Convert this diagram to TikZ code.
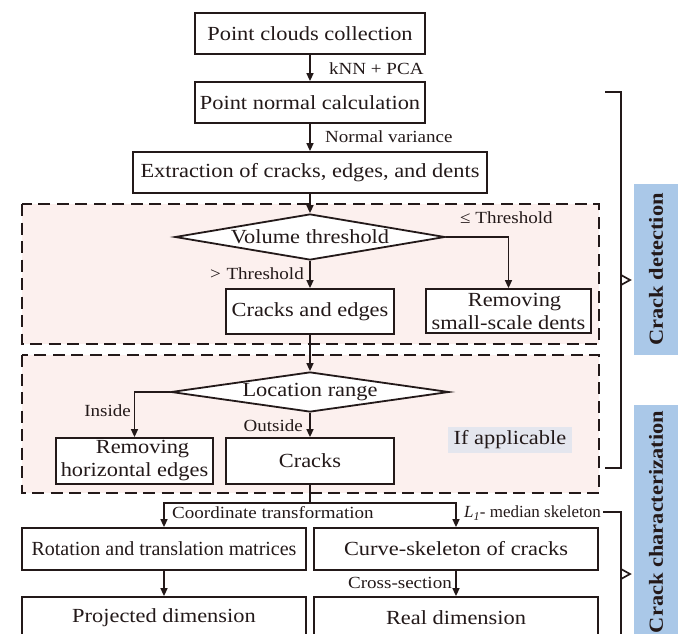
\documentclass[tikz,border=0pt]{standalone}
\usepackage{fontspec}
\setmainfont{Liberation Serif}[FakeStretch=1.12]
\newfontfamily\plainserif{Liberation Serif}
\usetikzlibrary{shapes.geometric,arrows.meta}
\definecolor{pinkbg}{RGB}{252,240,238}
\definecolor{bluebg}{RGB}{170,200,232}
\definecolor{grayblue}{RGB}{228,230,238}
\definecolor{ink}{RGB}{35,25,25}
\begin{document}
\begin{tikzpicture}[x=1pt,y=-1pt,
  box/.style={draw=ink, line width=1.8pt, fill=white, inner sep=0pt, align=center, text=ink, font=\fontsize{20}{23}\selectfont},
  dia/.style={draw=ink, line width=1.8pt, fill=white, diamond, inner sep=0pt, text=ink, font=\fontsize{20}{23}\selectfont},
  lbl/.style={inner sep=0pt, text=ink, font=\fontsize{17}{19}\selectfont},
  arr/.style={draw=ink, line width=1.6pt, -{Triangle[length=8pt,width=7pt]}},
  conn/.style={draw=ink, line width=1.7pt},
  dashbox/.style={draw=ink, line width=2.8pt, dash pattern=on 12pt off 6.5pt, fill=pinkbg},
  side/.style={fill=bluebg, inner sep=0pt, text=ink, font=\fontsize{20}{23}\selectfont\bfseries, rotate=90},
]
\useasboundingbox (0,0) rectangle (686,634);

% dashed group backgrounds
\draw[dashbox] (22,204) rectangle (599,344);
\draw[dashbox] (22,355) rectangle (599,493);

% side labels
\node[side, minimum width=171pt, minimum height=44pt] (cd) at (656,269.5) {Crack detection};
\node[side, minimum width=234pt, minimum height=44pt] (cc) at (656,522) {Crack characterization};

% brackets
\draw[conn] (605,92) -- (621,92) -- (621,468) -- (605,468);
\draw[conn] (621,275) -- (630,280) -- (621,285);
\draw[conn] (603,512) -- (621,512) -- (621,640);
\draw[conn] (621,569) -- (630,574) -- (621,579);

% nodes
\node[box, minimum width=230pt, minimum height=41pt] (b1) at (310,33.5) {Point clouds collection};
\node[box, minimum width=230pt, minimum height=41pt] (b2) at (310,102.5) {Point normal calculation};
\node[box, minimum width=354pt, minimum height=41pt] (b3) at (310,172.5) {Extraction of cracks, edges, and dents};
\node[dia, aspect=5.9, minimum width=270pt, minimum height=46pt] (d1) at (310,237) {Volume threshold};
\node[box, minimum width=168pt, minimum height=45pt] (ce) at (310,311.5) {Cracks and edges};
\node[box, minimum width=165pt, minimum height=44pt] (dents) at (508.5,311) {\hspace*{12pt}Removing\\small-scale dents};
\node[dia, aspect=6.9, minimum width=278pt, minimum height=40pt] (d2) at (310,392) {Location range};
\node[box, minimum width=157pt, minimum height=46pt] (he) at (134.5,461) {\hspace*{16pt}Removing\\horizontal edges};
\node[box, minimum width=168pt, minimum height=46pt] (cr) at (310,461) {Cracks};
\node[fill=grayblue, inner sep=0pt, minimum width=124pt, minimum height=26pt, text=ink, font=\fontsize{20}{23}\selectfont] (ifa) at (510,440) {If applicable};
\node[box, minimum width=284pt, minimum height=42pt, font=\plainserif\fontsize{20}{23}\selectfont] (rot) at (164,549) {Rotation and translation matrices};
\node[box, minimum width=284pt, minimum height=42pt] (cur) at (456,549) {Curve-skeleton of cracks};
\node[box, minimum width=284pt, minimum height=42pt] (proj) at (164,618) {Projected dimension};
\node[box, minimum width=284pt, minimum height=42pt] (real) at (456,618) {Real dimension};

% connectors
\draw[arr] (b1) -- (b2);
\draw[arr] (b2) -- (b3);
\draw[arr] (b3) -- (d1);
\draw[arr] (d1) -- (ce);
\draw[arr] (d1.east) -| (dents.north);
\draw[arr] (ce) -- (d2);
\draw[arr] (d2.west) -| (he.north);
\draw[arr] (d2) -- (cr);
\draw[conn] (cr.south) -- ++(0,18) coordinate (split);
\draw[arr] (split) -| (rot.north);
\draw[arr] (split) -| (cur.north);
\draw[arr] (rot) -- (proj);
\draw[arr] (cur) -- (real);

% connector labels
\node[lbl, anchor=west] (lknn) at (329,69) {kNN + PCA};
\node[lbl, anchor=west] (lnv) at (325,137) {Normal variance};
\node[lbl, anchor=west] (lle) at (460,218) {≤ Threshold};
\node[lbl, anchor=east] (lgt) at (304,274) {>\,\,Threshold};
\node[lbl, anchor=east] (lin) at (131,411) {Inside};
\node[lbl, anchor=east] (lout) at (303,426) {Outside};
\node[lbl, anchor=west] (lct) at (172,513) {Coordinate transformation};
\node[lbl, anchor=east, font=\plainserif\fontsize{17}{19}\selectfont] (lmed) at (601,513) {\textit{L}\textsubscript{\textit{1}}- median skeleton};
\node[lbl, anchor=east] (lcs) at (452,583) {Cross-section};
\end{tikzpicture}
\end{document}
